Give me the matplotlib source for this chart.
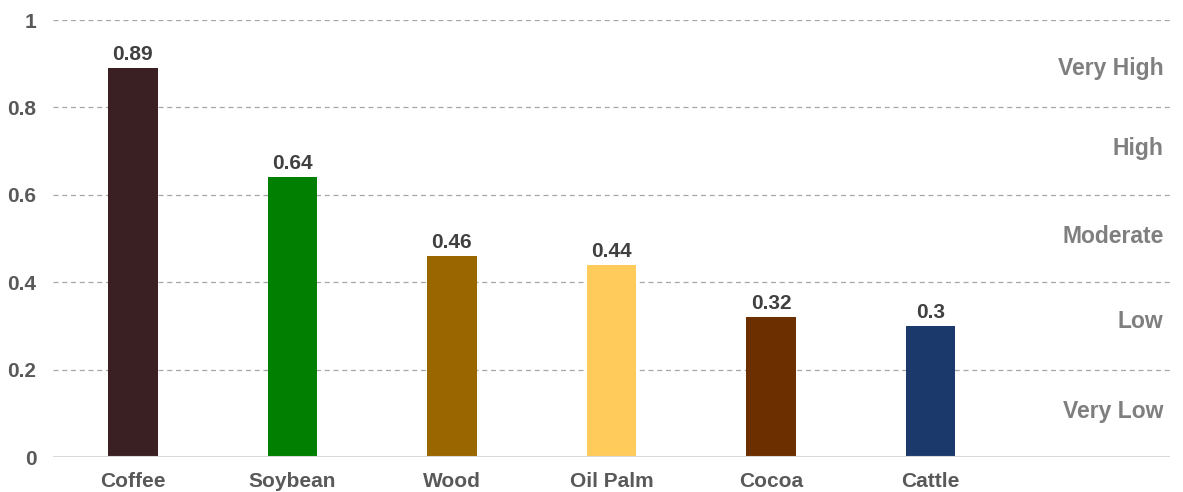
import matplotlib
matplotlib.use("Agg")
import matplotlib.pyplot as plt

categories = ["Coffee", "Soybean", "Wood", "Oil Palm", "Cocoa", "Cattle"]
values = [0.89, 0.64, 0.46, 0.44, 0.32, 0.3]
value_labels = ["0.89", "0.64", "0.46", "0.44", "0.32", "0.3"]
bar_colors = ["#3a1f23", "#007f00", "#996600", "#ffcc5c", "#6b2f00", "#1b3a6b"]
y_ticks = [0, 0.2, 0.4, 0.6, 0.8, 1.0]
y_tick_labels = ["0", "0.2", "0.4", "0.6", "0.8", "1"]
risk_levels = ["Very Low", "Low", "Moderate", "High", "Very High"]
risk_positions = [0.105, 0.31, 0.505, 0.705, 0.89]

plt.rcParams["font.family"] = ["Liberation Sans", "DejaVu Sans"]
plt.rcParams["font.weight"] = "bold"

fig = plt.figure(figsize=(11.83, 4.92), dpi=100)
ax = fig.add_axes([0.0448, 0.0711, 0.9442, 0.8882])

x = list(range(len(categories)))
bars = ax.bar(x, values, width=0.31, color=bar_colors, zorder=3)

for bar, label in zip(bars, value_labels):
    ax.annotate(
        label,
        (bar.get_x() + bar.get_width() / 2, bar.get_height()),
        xytext=(0, 3),
        textcoords="offset points",
        ha="center",
        va="bottom",
        fontsize=15,
        fontweight="bold",
        color="#404040",
    )

for level, pos in zip(risk_levels, risk_positions):
    ax.text(6.46, pos, level, ha="right", va="center", fontsize=16.5,
            fontweight="bold", color="#7f7f7f")

ax.set_xlim(-0.5, 6.5)
ax.set_ylim(0, 1)
ax.set_xticks(x)
ax.set_xticklabels(categories, fontsize=15, fontweight="bold", color="#595959")
ax.set_yticks(y_ticks)
ax.set_yticklabels(y_tick_labels, fontsize=15, fontweight="bold", color="#595959")
ax.tick_params(axis="both", length=0)
ax.tick_params(axis="y", pad=12)
ax.tick_params(axis="x", pad=11)

for y in y_ticks[1:]:
    ax.axhline(y, color="#a6a6a6", linestyle=(0, (4, 3)), linewidth=0.9, zorder=1)
ax.axhline(0, color="#d9d9d9", linewidth=1.5, zorder=4)

for spine in ax.spines.values():
    spine.set_visible(False)

fig.savefig("out.png", dpi=100)
